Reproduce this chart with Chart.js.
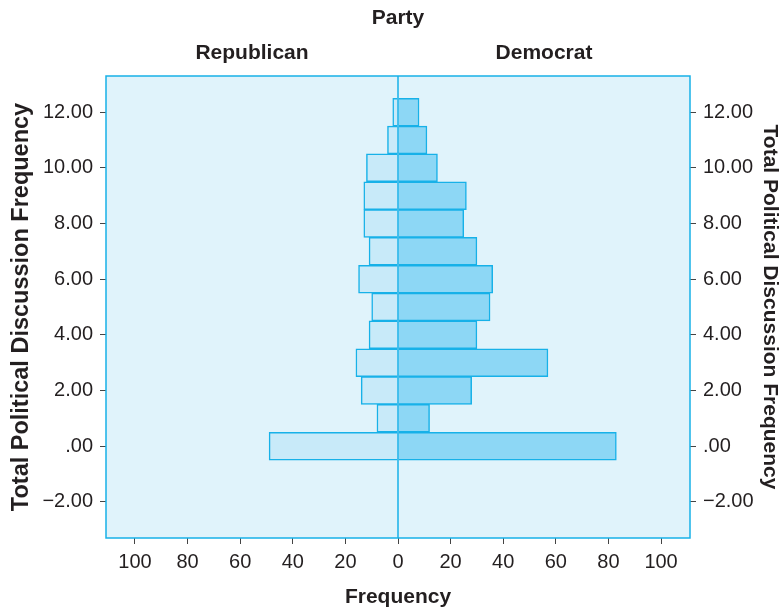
<!DOCTYPE html>
<html><head><meta charset="utf-8">
<script src="https://cdn.jsdelivr.net/npm/chart.js@4.4.1/dist/chart.umd.min.js"></script>
<style>html,body{margin:0;padding:0;background:#fff;}#wrap{position:relative;width:784px;height:612px;}</style>
</head><body><div id="wrap"><canvas id="c" width="784" height="612"></canvas></div>
<script>
const discussionLevels = [0,1,2,3,4,5,6,7,8,9,10,11,12];
const republicanFreq = [49,8,14,16,11,10,15,11,13,13,12,4,2];
const democratFreq = [83,12,28,57,30,35,36,30,25,26,15,11,8];
const freqTicks = [-100,-80,-60,-40,-20,0,20,40,60,80,100];
const levelTicks = [-2,0,2,4,6,8,10,12];
const partyNames = ['Republican','Democrat'];
const headerTitle = 'Party';
const axisTitleY = 'Total Political Discussion Frequency';
const axisTitleX = 'Frequency';

const FONT = "'Liberation Sans', Arial, sans-serif";
const TXT = '#231f20';
const CYAN = '#17b1e8';
const tickFont = {family: FONT, size: 20};
const titleFont = {family: FONT, size: 21, weight: 'bold'};
const leftTitleFont = {family: FONT, size: 23.5, weight: 'bold'};

function fmtLevel(v){ if (v === 0) return '.00'; return (v < 0 ? '\u2212' : '') + Math.abs(v).toFixed(2); }
function setTicks(list){ return s => { s.ticks = list.map(v => ({value: v})); }; }

const decorPlugin = {
  id: 'decor',
  beforeDatasetsDraw(chart){
    const {ctx, chartArea: a} = chart;
    ctx.save();
    ctx.fillStyle = '#e0f3fb';
    ctx.fillRect(a.left, a.top, a.right - a.left, a.bottom - a.top);
    ctx.restore();
  },
  afterDatasetsDraw(chart){
    const {ctx, chartArea: a, scales} = chart;
    const x0 = scales.x.getPixelForValue(0);
    ctx.save();
    ctx.strokeStyle = CYAN;
    ctx.lineWidth = 1.5;
    ctx.beginPath(); ctx.moveTo(x0, a.top); ctx.lineTo(x0, a.bottom); ctx.stroke();
    ctx.strokeRect(a.left, a.top, a.right - a.left, a.bottom - a.top);
    ctx.fillStyle = TXT;
    ctx.font = "bold 21px " + FONT;
    ctx.textAlign = 'center'; ctx.textBaseline = 'middle';
    ctx.fillText(headerTitle, x0, 18);
    ctx.fillText(partyNames[0], (a.left + x0) / 2, 53);
    ctx.fillText(partyNames[1], (x0 + a.right) / 2, 53);
    ctx.restore();
  }
};

function gridOpts(){ return {drawOnChartArea: false, drawTicks: true, tickLength: 6, color: '#444', lineWidth: 1, offset: false}; }

new Chart(document.getElementById('c'), {
  type: 'bar',
  data: {
    datasets: [
      {label: partyNames[0], data: discussionLevels.map((y, i) => ({x: -republicanFreq[i], y})),
       backgroundColor: '#c8eaf9', borderColor: CYAN, borderWidth: 1.5, barPercentage: 1, categoryPercentage: 1, grouped: false},
      {label: partyNames[1], data: discussionLevels.map((y, i) => ({x: democratFreq[i], y})),
       backgroundColor: '#8dd7f5', borderColor: CYAN, borderWidth: 1.5, barPercentage: 1, categoryPercentage: 1, grouped: false}
    ]
  },
  options: {
    indexAxis: 'y', responsive: false, animation: false,
    layout: {padding: {top: 76, left: 5, right: 0, bottom: 0}},
    plugins: {legend: {display: false}, tooltip: {enabled: false}},
    scales: {
      x: {type: 'linear', position: 'bottom', min: -111, max: 111, offset: false,
        afterBuildTicks: setTicks(freqTicks),
        ticks: {callback: v => Math.abs(v), font: tickFont, color: TXT, padding: 6, maxRotation: 0, autoSkip: false},
        grid: gridOpts(), border: {display: false},
        title: {display: true, text: axisTitleX, font: titleFont, color: TXT, padding: {top: 2, bottom: 2}},
        afterFit: s => { s.height = 74; }},
      y: {type: 'linear', position: 'left', min: -3.3, max: 13.3, offset: false,
        afterBuildTicks: setTicks(levelTicks),
        ticks: {callback: fmtLevel, font: tickFont, color: TXT, padding: 7, autoSkip: false},
        grid: gridOpts(), border: {display: false},
        title: {display: true, text: axisTitleY, font: leftTitleFont, color: TXT, padding: {top: 2, bottom: 2}},
        afterFit: s => { s.width = 101; }},
      y2: {type: 'linear', position: 'right', min: -3.3, max: 13.3, offset: false,
        afterBuildTicks: setTicks(levelTicks),
        ticks: {callback: fmtLevel, font: tickFont, color: TXT, padding: 7, autoSkip: false},
        grid: gridOpts(), border: {display: false},
        title: {display: true, text: axisTitleY, font: titleFont, color: TXT, padding: {top: 2, bottom: 2}},
        afterFit: s => { s.width = 94; }}
    }
  },
  plugins: [decorPlugin]
});
</script></body></html>
